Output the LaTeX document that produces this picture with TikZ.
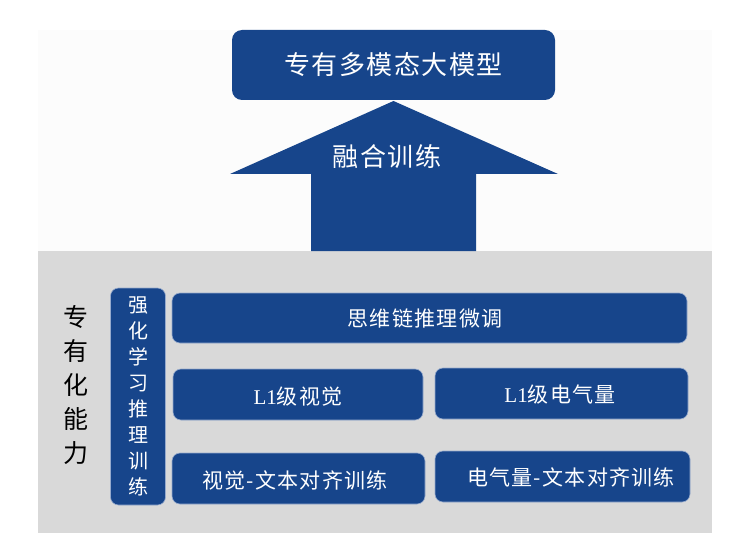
\documentclass[tikz,border=0pt]{standalone}
\usepackage{fontspec}
\setmainfont{Liberation Serif}
\newfontfamily\cjk[LetterSpace=6]{Noto Sans CJK SC}
\newfontfamily\cjkv{Noto Sans CJK SC}
\definecolor{boxblue}{RGB}{23,69,139}
\definecolor{boxedge}{RGB}{150,170,205}
\definecolor{lightbg}{RGB}{252,252,252}
\definecolor{graybg}{RGB}{217,217,217}
\begin{document}
\begin{tikzpicture}[x=1pt,y=-1pt,
  bluebox/.style={fill=boxblue,draw=boxedge,line width=0.6pt,rounded corners=8pt,inner sep=0pt,text=white,align=center},
  boxtext/.style={text=white,font=\cjk\fontsize{21}{24}\selectfont,inner sep=0pt}]
\useasboundingbox (0,0) rectangle (750,559);
\fill[white] (0,0) rectangle (750,559);
% backgrounds
\fill[lightbg] (38,30) rectangle (712,251);
\fill[graybg] (38,251) rectangle (712,533);
% top box
\node[bluebox,draw=none,rounded corners=10pt,minimum width=323pt,minimum height=70pt,
  font=\cjk\fontsize{26}{30}\selectfont] (top) at (393.5,65) {专有多模态大模型};
% arrow
\fill[boxblue] (393.5,101) -- (558,174) -- (476,174) -- (476,251) -- (311,251) -- (311,174) -- (230,174) -- cycle;
\node[text=white,font=\cjk\fontsize{26}{30}\selectfont,inner sep=0pt] (fuse) at (387,157) {融合训练};
% left label
\node[align=center,font=\cjkv\fontsize{25}{34}\selectfont,inner sep=0pt] (cap) at (76,385) {专\\有\\化\\能\\力};
% vertical box
\node[bluebox,minimum width=55pt,minimum height=217pt,
  font=\cjkv\fontsize{20}{26.1}\selectfont] (rl) at (138,396.5) {强\\化\\学\\习\\推\\理\\训\\练};
% right boxes
\node[bluebox,minimum width=515pt,minimum height=50pt] (cot) at (429.5,318) {};
\node[boxtext] (cott) at (425,319) {思维链推理微调};
\node[bluebox,minimum width=250pt,minimum height=51pt] (vis) at (298,394.5) {};
\node[boxtext] (vist) at (298,397) {\fontsize{21}{24}\rmfamily L1\cjk 级视觉};
\node[bluebox,minimum width=253pt,minimum height=51pt] (ele) at (561.5,393.5) {};
\node[boxtext] (elet) at (560,395) {\fontsize{21}{24}\rmfamily L1\cjk 级电气量};
\node[bluebox,minimum width=253pt,minimum height=51pt] (vta) at (298.5,478.5) {};
\node[boxtext] (vtat) at (295,480) {视觉-文本对齐训练};
\node[bluebox,minimum width=255pt,minimum height=51pt] (eta) at (562.5,476.5) {};
\node[boxtext] (etat) at (571,477) {电气量-文本对齐训练};
\end{tikzpicture}
\end{document}
